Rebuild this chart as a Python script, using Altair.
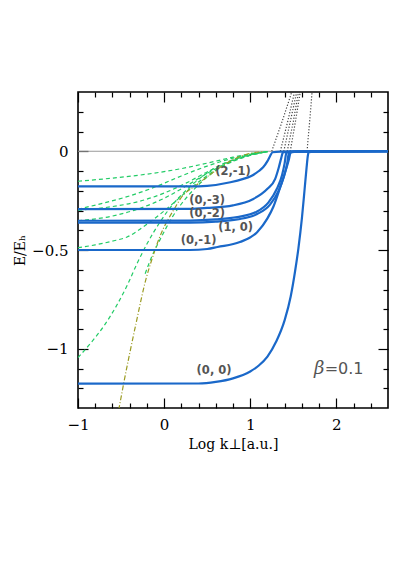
import altair as alt
import pandas as pd

W, H = 310, 316
X_DOMAIN = [-1.0, 2.6]
Y_DOMAIN = [-1.3, 0.3]

x_major = [-1, 0, 1, 2]
x_ticks = [-1.0, -0.8, -0.6, -0.4, -0.2, 0.0, 0.2, 0.4, 0.6, 0.8, 1.0,
           1.2, 1.4, 1.6, 1.8, 2.0, 2.2, 2.4]
y_major = [0, -0.5, -1]
y_ticks = [0.2, 0.1, 0.0, -0.1, -0.2, -0.3, -0.4, -0.5, -0.6, -0.7, -0.8,
           -0.9, -1.0, -1.1, -1.2]

# ---- blue solid curves (centred states) ----
b21_x = [-1.0, 0.3, 0.5, 0.77, 0.92, 1.0, 1.1, 1.15, 1.2, 1.23, 1.26, 1.35, 1.8, 2.6]
b21_y = [-0.178, -0.178, -0.175, -0.157, -0.14, -0.128, -0.10, -0.081, -0.05, -0.025, -0.005, -0.002, -0.001, 0.0]
b03_x = [-1.0, 0.3, 0.5, 0.8, 1.03, 1.2, 1.29, 1.33, 1.36, 1.38, 1.45, 1.8, 2.6]
b03_y = [-0.293, -0.292, -0.287, -0.274, -0.243, -0.19, -0.14, -0.085, -0.035, -0.006, -0.002, -0.001, 0.0]
b02_x = [-1.0, 0.3, 0.6, 0.85, 1.08, 1.21, 1.31, 1.37, 1.40, 1.42, 1.5, 1.8, 2.6]
b02_y = [-0.352, -0.351, -0.345, -0.333, -0.305, -0.26, -0.19, -0.12, -0.06, -0.008, -0.002, -0.001, 0.0]
b10_x = [-1.0, 0.3, 0.6, 0.85, 1.08, 1.23, 1.33, 1.39, 1.43, 1.45, 1.52, 1.8, 2.6]
b10_y = [-0.362, -0.361, -0.356, -0.345, -0.318, -0.27, -0.2, -0.13, -0.06, -0.008, -0.002, -0.001, 0.0]
b01_x = [-1.0, 0.3, 0.5, 0.62, 0.88, 1.08, 1.2, 1.27, 1.35, 1.41, 1.45, 1.47, 1.55, 1.8, 2.6]
b01_y = [-0.5, -0.5, -0.495, -0.485, -0.46, -0.41, -0.34, -0.28, -0.18, -0.1, -0.04, -0.006, -0.002, -0.001, 0.0]
b00_x = [-1.0, 0.4, 0.6, 0.8, 1.0, 1.1, 1.2, 1.3, 1.4, 1.47, 1.52, 1.56, 1.6, 1.63, 1.655, 1.67, 1.68, 1.75, 2.0, 2.6]
b00_y = [-1.177, -1.176, -1.168, -1.150, -1.115, -1.085, -1.04, -0.965, -0.855, -0.735, -0.61, -0.49, -0.34, -0.2, -0.08, -0.02, -0.004, -0.002, -0.001, 0.0]

# ---- green dashed curves (decentred states) ----
g1_x = [-1.0, -0.6, -0.2, 0.2, 0.5, 0.8, 1.0, 1.2]
g1_y = [-0.152, -0.136, -0.116, -0.088, -0.060, -0.030, -0.013, -0.002]
g2_x = [-1.0, -0.7, -0.4, -0.1, 0.2, 0.5, 0.8, 1.0, 1.2]
g2_y = [-0.293, -0.262, -0.226, -0.180, -0.125, -0.075, -0.035, -0.015, -0.002]
g3_x = [-1.0, -0.6, -0.3, 0.0, 0.26, 0.5, 0.8, 1.0, 1.2]
g3_y = [-0.298, -0.280, -0.255, -0.212, -0.160, -0.105, -0.045, -0.018, -0.002]
g4_x = [-1.0, -0.6, -0.3, 0.0, 0.26, 0.5, 0.8, 1.0, 1.2]
g4_y = [-0.352, -0.328, -0.292, -0.238, -0.175, -0.112, -0.048, -0.019, -0.002]
g5_x = [-1.0, -0.8, -0.6, -0.43, -0.2, 0.07, 0.3, 0.6, 0.9, 1.2]
g5_y = [-0.488, -0.474, -0.455, -0.434, -0.37, -0.277, -0.19, -0.095, -0.035, -0.002]
g6_x = [-1.0, -0.85, -0.7, -0.55, -0.43, -0.31, -0.2, -0.05, 0.1, 0.3, 0.55, 0.85, 1.2]
g6_y = [-1.045, -0.97, -0.885, -0.78, -0.68, -0.565, -0.47, -0.36, -0.27, -0.18, -0.095, -0.035, -0.002]
g7_x = [-0.22, -0.15, -0.05, 0.1, 0.25, 0.45, 0.7, 1.0, 1.2]
g7_y = [-0.62, -0.54, -0.45, -0.33, -0.24, -0.15, -0.07, -0.02, -0.002]

# ---- olive dash-dot curve ----
ol_x = [-0.55, -0.52, -0.47, -0.33, -0.21, -0.14, -0.06, 0.14, 0.19, 0.38, 0.57, 0.77, 0.96, 1.15]
ol_y = [-1.36, -1.293, -1.177, -0.88, -0.646, -0.545, -0.444, -0.276, -0.24, -0.170, -0.107, -0.049, -0.015, -0.002]

# ---- black dotted lines ----
d1_x = [1.25, 1.37, 1.49]
d2_x = [1.35, 1.435, 1.52]
d3_x = [1.39, 1.465, 1.545]
d4_x = [1.43, 1.50, 1.565]
d5_x = [1.465, 1.525, 1.585]
d6_x = [1.66, 1.69, 1.72]
d_y = [0.0, 0.15, 0.31]

zero_x = [-1.0, 2.6]
zero_y = [0.0, 0.0]

lab_text = ["(2,-1)", "(0,-3)", "(0,-2)", "(1, 0)", "(0,-1)", "(0, 0)"]
lab_x = [0.80, 0.50, 0.50, 0.83, 0.40, 0.58]
lab_y = [-0.103, -0.253, -0.318, -0.39, -0.455, -1.114]

beta_sym = ["β"]
beta_val = ["=0.1"]
beta_x = [1.80]
beta_val_x = [2.09]
beta_y = [-1.10]


def frame(name, xs, ys):
    return pd.DataFrame({"curve": name, "x": xs, "y": ys})


blue_df = pd.concat([frame("b21", b21_x, b21_y), frame("b03", b03_x, b03_y),
                     frame("b02", b02_x, b02_y), frame("b10", b10_x, b10_y),
                     frame("b01", b01_x, b01_y), frame("b00", b00_x, b00_y)])
green_df = pd.concat([frame("g1", g1_x, g1_y), frame("g2", g2_x, g2_y),
                      frame("g3", g3_x, g3_y), frame("g4", g4_x, g4_y),
                      frame("g5", g5_x, g5_y), frame("g6", g6_x, g6_y),
                      frame("g7", g7_x, g7_y)])
olive_df = frame("ol", ol_x, ol_y)
dot_df = pd.concat([frame("d1", d1_x, d_y), frame("d2", d2_x, d_y),
                    frame("d3", d3_x, d_y), frame("d4", d4_x, d_y),
                    frame("d5", d5_x, d_y), frame("d6", d6_x, d_y)])
zero_df = frame("zero", zero_x, zero_y)
lab_df = pd.DataFrame({"t": lab_text, "x": lab_x, "y": lab_y})
beta_df = pd.DataFrame({"t": beta_sym, "x": beta_x, "y": beta_y})
beta_val_df = pd.DataFrame({"t": beta_val, "x": beta_val_x, "y": beta_y})

xscale = alt.Scale(domain=X_DOMAIN, nice=False, zero=False)
yscale = alt.Scale(domain=Y_DOMAIN, nice=False, zero=False)

FONT = "DejaVu Serif"
x_cond = {"condition": {"test": "abs(datum.value - round(datum.value)) < 1e-6", "value": 10}, "value": 5}
y_cond = {"condition": {"test": "abs(datum.value * 2 - round(datum.value * 2)) < 1e-6", "value": 10}, "value": 5}

tick_common = dict(labels=False, domain=False, grid=False, ticks=True,
                   tickColor="black", tickWidth=1.2, title=None)

ax_x_main = alt.Axis(orient="bottom", values=x_major, format=".0f", ticks=False, tickSize=0,
                     domain=False, grid=False, labelFont=FONT, labelFontSize=15,
                     labelColor="black", labelPadding=9, labelFlush=False,
                     title="Log k⊥[a.u.]",
                     titleFont=FONT, titleFontSize=14, titleFontWeight="normal",
                     titleColor="black", titlePadding=5)
ax_x_inb = alt.Axis(orient="top", offset=-H, values=x_ticks, tickSize=x_cond, **tick_common)
ax_x_int = alt.Axis(orient="bottom", offset=-H, values=x_ticks, tickSize=x_cond, **tick_common)

ax_y_main = alt.Axis(orient="left", values=y_major, format=".1~f", ticks=False, tickSize=0,
                     domain=False, grid=False, labelFont=FONT, labelFontSize=15,
                     labelColor="black", labelPadding=10, labelFlush=False,
                     title="E/Eₕ",
                     titleFont=FONT, titleFontSize=14, titleFontWeight="normal",
                     titleColor="black", titlePadding=4)
ax_y_inl = alt.Axis(orient="right", offset=-W, values=y_ticks, tickSize=y_cond, **tick_common)
ax_y_inr = alt.Axis(orient="left", offset=-W, values=y_ticks, tickSize=y_cond, **tick_common)


def enc(xaxis=None, yaxis=None):
    return dict(x=alt.X("x:Q", scale=xscale, axis=xaxis),
                y=alt.Y("y:Q", scale=yscale, axis=yaxis))


zero_layer = alt.Chart(zero_df).mark_line(color="#999999", strokeWidth=1).encode(
    **enc(ax_x_main, ax_y_main))

green_layer = alt.Chart(green_df).mark_line(
    color="#22cc66", strokeWidth=1.2, strokeDash=[4, 3], interpolate="monotone", clip=True
).encode(detail="curve:N", **enc(ax_x_inb, ax_y_inl))

olive_layer = alt.Chart(olive_df).mark_line(
    color="#9b9b22", strokeWidth=1.2, strokeDash=[5, 2, 1, 2], interpolate="monotone", clip=True
).encode(**enc(ax_x_int, ax_y_inr))

dot_layer = alt.Chart(dot_df).mark_line(
    color="#444444", strokeWidth=1.2, strokeDash=[1.2, 1.8], clip=True
).encode(detail="curve:N", **enc())

blue_layer = alt.Chart(blue_df).mark_line(
    color="#1a68c9", strokeWidth=2.2, interpolate="monotone", clip=True
).encode(detail="curve:N", **enc())

lab_layer = alt.Chart(lab_df).mark_text(
    font="DejaVu Sans", fontSize=11.5, fontWeight="bold", color="#555555",
    align="center", baseline="middle"
).encode(text="t:N", **enc())

beta_layer = alt.Chart(beta_df).mark_text(
    font="DejaVu Serif", fontSize=18, fontStyle="italic", color="#555555",
    align="center", baseline="middle"
).encode(text="t:N", **enc())

beta_val_layer = alt.Chart(beta_val_df).mark_text(
    font="DejaVu Sans", fontSize=16, color="#555555", align="center", baseline="middle"
).encode(text="t:N", **enc())

chart = alt.layer(
    zero_layer, green_layer, olive_layer, dot_layer, blue_layer,
    lab_layer, beta_layer, beta_val_layer
).resolve_axis(x="independent", y="independent").properties(
    width=W, height=H,
    padding={"left": 70, "top": 84, "right": 3, "bottom": 140},
    autosize=alt.AutoSizeParams(type="none"),
    background="white",
).configure_view(stroke="black", strokeWidth=1.6)

chart.save("out.html", embed_options={"renderer": "svg", "actions": False})
